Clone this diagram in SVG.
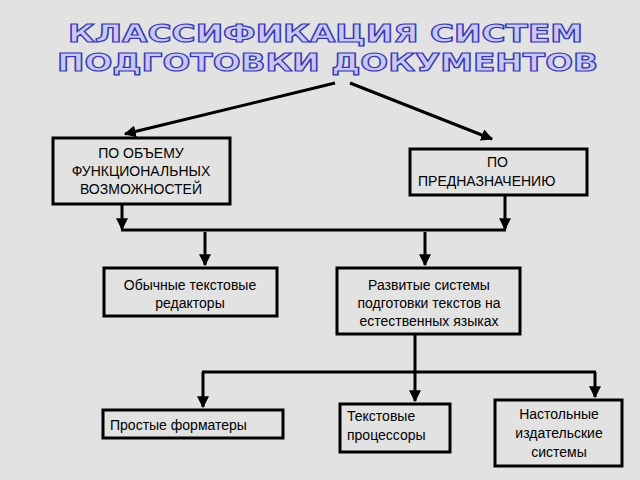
<svg xmlns="http://www.w3.org/2000/svg" width="640" height="480" viewBox="0 0 640 480">
<defs>
<marker id="ah" viewBox="0 0 10 10" refX="9" refY="5" markerWidth="4" markerHeight="4" orient="auto-start-reverse"><path d="M0,0 L10,5 L0,10 z" fill="#000"/></marker>
</defs>
<style>
.t{font-family:"Liberation Sans",Arial,sans-serif;font-size:14px;fill:#000}
.b{fill:none;stroke:#000;stroke-width:3}
.c{fill:none;stroke:#000;stroke-width:3}
.ttl{font-family:"DejaVu Sans",sans-serif;font-size:25px;font-weight:bold;fill:#c8c8f4;stroke:#3838b8;stroke-width:1.2}
</style>
<rect width="640" height="480" fill="#e2e2e2"/>
<g id="title">
<text class="ttl" x="68" y="42" textLength="515" lengthAdjust="spacingAndGlyphs">КЛАССИФИКАЦИЯ СИСТЕМ</text>
<text class="ttl" x="57" y="71" textLength="541" lengthAdjust="spacingAndGlyphs">ПОДГОТОВКИ ДОКУМЕНТОВ</text>
</g>
<g id="connectors">
<line class="c" x1="335" y1="83" x2="125" y2="134" marker-end="url(#ah)"/>
<line class="c" x1="350" y1="83" x2="492" y2="139" marker-end="url(#ah)"/>
<line class="c" x1="122" y1="204" x2="122" y2="229" marker-end="url(#ah)"/>
<line class="c" x1="505" y1="195" x2="505" y2="229" marker-end="url(#ah)"/>
<line class="c" x1="121" y1="230" x2="506" y2="230"/>
<line class="c" x1="205" y1="232" x2="205" y2="265" marker-end="url(#ah)"/>
<line class="c" x1="425" y1="232" x2="425" y2="265" marker-end="url(#ah)"/>
<line class="c" x1="415" y1="334" x2="415" y2="371"/>
<line class="c" x1="202" y1="372" x2="596" y2="372"/>
<line class="c" x1="203" y1="372" x2="203" y2="407" marker-end="url(#ah)"/>
<line class="c" x1="415" y1="372" x2="415" y2="401" marker-end="url(#ah)"/>
<line class="c" x1="595" y1="372" x2="595" y2="397" marker-end="url(#ah)"/>
</g>
<g id="n1"><rect class="b" x="53" y="138" width="177" height="66"/>
<text class="t" text-anchor="middle" x="141" y="158">ПО ОБЪЕМУ</text>
<text class="t" text-anchor="middle" x="141" y="176">ФУНКЦИОНАЛЬНЫХ</text>
<text class="t" text-anchor="middle" x="141" y="194">ВОЗМОЖНОСТЕЙ</text></g>
<g id="n2"><rect class="b" x="410" y="149" width="177" height="46"/>
<text class="t" x="487" y="167">ПО</text>
<text class="t" x="418" y="186">ПРЕДНАЗНАЧЕНИЮ</text></g>
<g id="n3"><rect class="b" x="104" y="268" width="173" height="48"/>
<text class="t" text-anchor="middle" x="190" y="290">Обычные текстовые</text>
<text class="t" text-anchor="middle" x="190" y="308">редакторы</text></g>
<g id="n4"><rect class="b" x="337" y="268" width="183" height="66"/>
<text class="t" text-anchor="middle" x="429" y="290">Развитые системы</text>
<text class="t" text-anchor="middle" x="429" y="308">подготовки текстов на</text>
<text class="t" text-anchor="middle" x="429" y="326">естественных языках</text></g>
<g id="n5"><rect class="b" x="103" y="410" width="180" height="28"/>
<text class="t" x="110" y="430">Простые форматеры</text></g>
<g id="n6"><rect class="b" x="340" y="404" width="110" height="48"/>
<text class="t" x="347" y="421">Текстовые</text>
<text class="t" x="347" y="440">процессоры</text></g>
<g id="n7"><rect class="b" x="495" y="400" width="127" height="66"/>
<text class="t" text-anchor="middle" x="559" y="419">Настольные</text>
<text class="t" text-anchor="middle" x="559" y="438">издательские</text>
<text class="t" text-anchor="middle" x="559" y="457">системы</text></g>
</svg>
